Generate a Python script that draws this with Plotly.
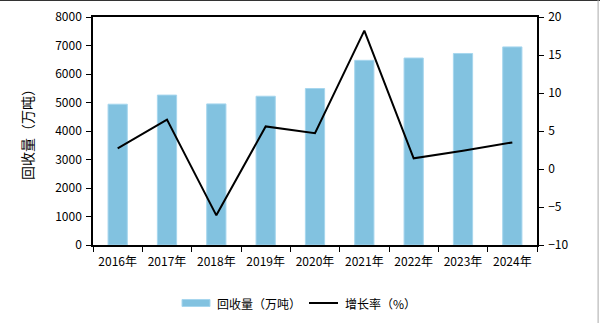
import plotly.graph_objects as go

years = ["2016年", "2017年", "2018年", "2019年", "2020年", "2021年", "2022年", "2023年", "2024年"]
volume = [4940, 5260, 4950, 5220, 5490, 6480, 6560, 6720, 6950]
growth = [2.7, 6.5, -6.1, 5.6, 4.7, 18.2, 1.4, 2.4, 3.5]
bar_name = "回收量（万吨）"
line_name = "增长率（%）"

FONT = "Noto Sans CJK SC"
BAR_COLOR = "#82c2e0"
BAR_EDGE = "#a6d6ee"

fig = go.Figure()
fig.add_trace(go.Bar(
    x=years, y=volume, name=bar_name, showlegend=False,
    marker=dict(color=BAR_COLOR, line=dict(color=BAR_EDGE, width=1)),
    width=0.39,
))
fig.add_trace(go.Scatter(
    x=years, y=growth, name=line_name, yaxis="y2", showlegend=False,
    mode="lines", line=dict(color="black", width=2),
))

fig.update_layout(
    width=600, height=323,
    margin=dict(l=93, r=63, t=17, b=78, autoexpand=False),
    paper_bgcolor="white", plot_bgcolor="white",
    font=dict(family=FONT, size=12, color="black"),
    xaxis=dict(
        type="category", showline=True, linecolor="black", linewidth=1.5,
        mirror=True, ticks="outside", tickson="boundaries", ticklen=5,
        tickcolor="black", tickfont=dict(size=12), showgrid=False,
        automargin=False, ticklabelstandoff=5,
    ),
    yaxis=dict(
        range=[0, 8000], dtick=1000, showline=True, linecolor="black",
        linewidth=1.5, ticks="outside", ticklen=5, tickcolor="black",
        showgrid=False, zeroline=False, tickfont=dict(size=12),
        automargin=False, ticklabelstandoff=2,
        title=dict(text=bar_name, font=dict(size=14), standoff=18),
    ),
    yaxis2=dict(
        range=[-10, 20], dtick=5, overlaying="y", side="right",
        showline=True, linecolor="black", linewidth=1.5, ticks="outside",
        ticklen=5, tickcolor="black", showgrid=False, zeroline=False,
        tickfont=dict(size=12), automargin=False, ticklabelstandoff=2,
    ),
    shapes=[
        dict(type="line", xref="paper", yref="paper", x0=-0.3, x1=1.3,
             y0=1.0746, y1=1.0746, line=dict(color="#333333", width=2)),
        dict(type="line", xref="paper", yref="paper", x0=1.1376, x1=1.1376,
             y0=-0.4, y1=1.1, line=dict(color="#aaaaaa", width=1)),
        # legend swatches
        dict(type="rect", xref="paper", yref="paper", x0=0.2005, x1=0.2635,
             y0=-0.2697, y1=-0.239, fillcolor=BAR_COLOR,
             line=dict(color=BAR_EDGE, width=1)),
        dict(type="line", xref="paper", yref="paper", x0=0.4865, x1=0.5518,
             y0=-0.2544, y1=-0.2544, line=dict(color="black", width=2)),
    ],
    annotations=[
        dict(text=bar_name, xref="paper", yref="paper", x=0.2748, y=-0.2544,
             xanchor="left", yanchor="middle", showarrow=False,
             font=dict(size=12)),
        dict(text=line_name, xref="paper", yref="paper", x=0.563, y=-0.2544,
             xanchor="left", yanchor="middle", showarrow=False,
             font=dict(size=12)),
    ],
)

fig.write_html("out.html")
